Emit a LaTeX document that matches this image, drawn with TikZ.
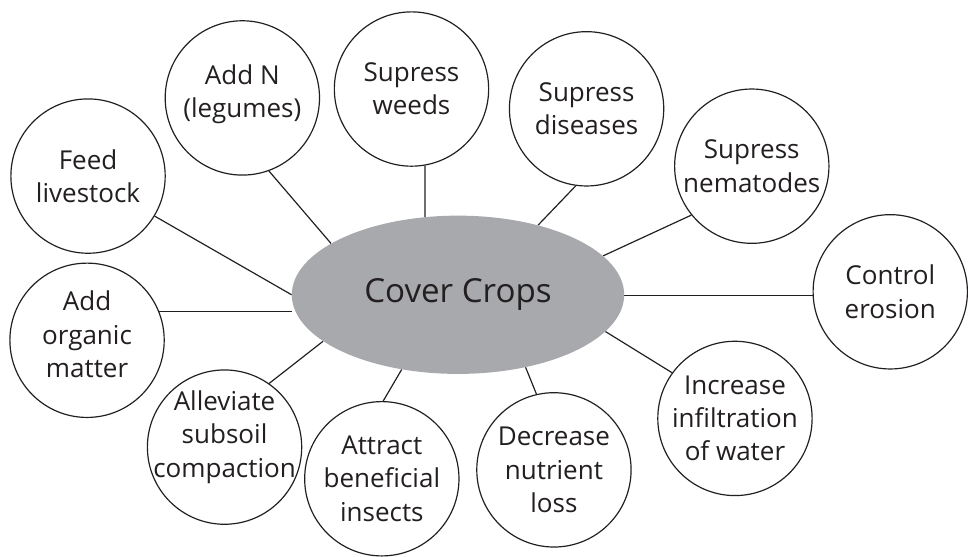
\documentclass[tikz,border=0pt]{standalone}
\usepackage{fontspec}
\setmainfont{Open Sans}
\usetikzlibrary{shapes.geometric}
\definecolor{textc}{HTML}{231F20}
\definecolor{ellgray}{HTML}{A7A9AC}
\pgfdeclarelayer{bg}
\pgfdeclarelayer{canvas}
\pgfsetlayers{canvas,bg,main}
\begin{document}
\begin{tikzpicture}[x=1pt,y=-1pt,
  circ/.style={circle, draw=textc, fill=white, line width=1.2pt, minimum size=156pt, inner sep=0pt,
    align=center, font=\fontsize{26.3}{33.5}\selectfont, text=textc},
  lbl/.style={align=center, inner sep=0pt, font=\fontsize{26.3}{33.5}\selectfont, text=textc},
  conn/.style={draw=textc, line width=1.2pt}]
\begin{pgfonlayer}{canvas}
\useasboundingbox[fill=white] (0,0) rectangle (968,556);
\end{pgfonlayer}
\node[ellipse, fill=ellgray, minimum width=336pt, minimum height=160pt, inner sep=0pt,
  font=\fontsize{33.5}{40}\selectfont, text=textc] (cc) at (463,298) {Cover Crops};
\node[circ] (feed) at (89,178) {Feed\\livestock};
\node[circ] (addn) at (245,99) {};
\node[lbl] (addnt) at (245,95) {Add N\\(legumes)};
\node[circ] (weeds) at (416,90) {Supress\\weeds};
\node[circ] (dis) at (593,110) {Supress\\diseases};
\node[circ] (nem) at (760,168) {Supress\\nematodes};
\node[circ] (ero) at (900,295) {Control\\erosion};
\node[circ] (inc) at (743,423) {Increase\\infiltration\\of water};
\node[circ] (dec) at (560,475) {Decrease\\nutrient\\loss};
\node[circ] (att) at (386,484) {Attract\\beneficial\\insects};
\node[circ] (all) at (227,452) {};
\node[lbl] (allt) at (227,442) {Alleviate\\subsoil\\compaction};
\node[circ] (org) at (88,344) {};
\node[lbl] (orgt) at (88,338) {Add\\organic\\matter};
\begin{pgfonlayer}{bg}
\draw[conn] (feed.-31) -- (cc.180);
\draw[conn] (addn.-70) -- (cc.158);
\draw[conn] (weeds.-80) -- (cc.113);
\draw[conn] (dis.-98) -- (cc.41);
\draw[conn] (nem.-141) -- (cc.15);
\draw[conn] (ero.-177) -- (ero.-177 -| cc.east);
\draw[conn] (inc.144) -- (cc.-14);
\draw[conn] (dec.103) -- (cc.-47);
\draw[conn] (att.89) -- (cc.-127);
\draw[conn] (all.55) -- (cc.-161);
\draw[conn] (org.22) -- (org.22 -| cc.west);
\end{pgfonlayer}
\end{tikzpicture}
\end{document}
